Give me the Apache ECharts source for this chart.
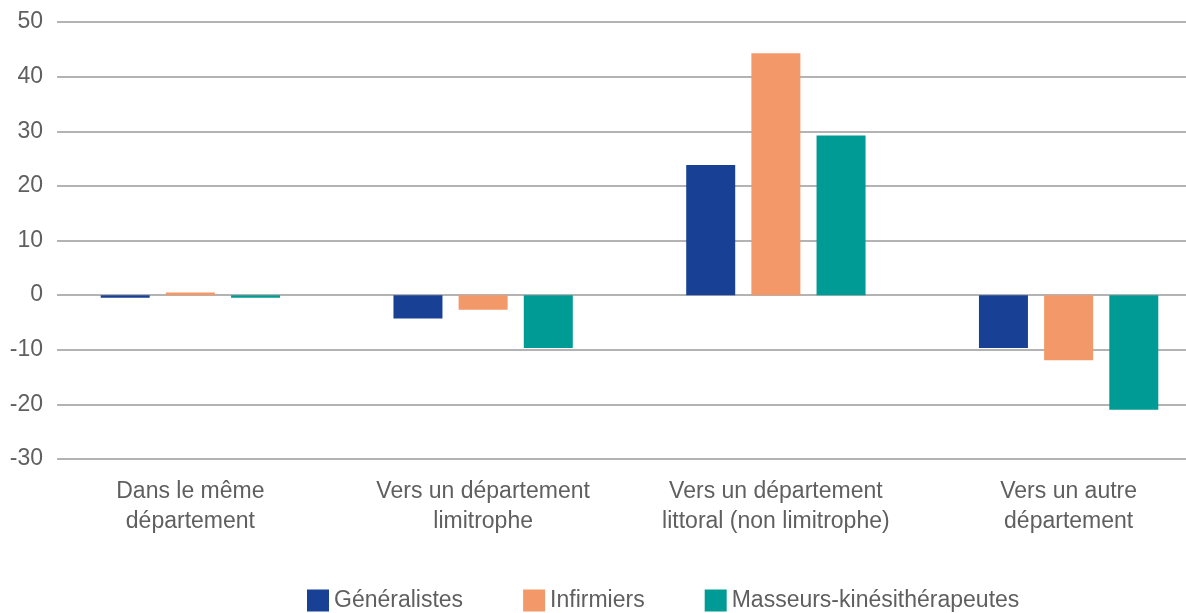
<!DOCTYPE html>
<html>
<head>
<meta charset="utf-8">
<script src="https://cdn.jsdelivr.net/npm/echarts@6/dist/echarts.min.js"></script>
<style>
  html, body { margin: 0; padding: 0; background: #fff; }
  #chart { width: 1186px; height: 613px; }
</style>
</head>
<body>
<div id="chart"></div>
<script>
  // catégories et valeurs
  let categories = [
    'Dans le même\ndépartement',
    'Vers un département\nlimitrophe',
    'Vers un département\nlittoral (non limitrophe)',
    'Vers un autre\ndépartement'
  ]
  let seriesNames = ['Généralistes', 'Infirmiers', 'Masseurs-kinésithérapeutes']
  let generalistes = [-0.5, -4.3, 23.8, -9.7]
  let infirmiers = [0.5, -2.7, 44.3, -11.9]
  let masseurs = [-0.5, -9.7, 29.2, -21.0]
  let colors = ['#184196', '#f39869', '#009b94']

  let font = '"Liberation Sans Narrow", "Liberation Sans", sans-serif'
  let textColor = '#5f5f5f'

  let myChart = echarts.init(document.getElementById('chart'))
  let makeSeries = function (name, data, i) {
    return {
      name: name,
      type: 'bar',
      xAxisIndex: 1,
      yAxisIndex: 1,
      barWidth: 49,
      barGap: '33%',
      itemStyle: { color: colors[i] },
      data: data
    }
  }
  myChart.setOption({
    animation: false,
    textStyle: { fontFamily: font },
    legend: {
      data: seriesNames,
      left: 302,
      bottom: -4,
      itemWidth: 22,
      itemHeight: 22,
      itemGap: 60,
      icon: 'rect',
      textStyle: { fontSize: 23, color: textColor, fontFamily: font }
    },
    grid: [
      // grille des lignes horizontales
      { left: 57, right: 0, top: 22, bottom: 154 },
      // grille des barres, plus large que la fenêtre comme dans l'original
      { left: 44, width: 1171, top: 22, bottom: 154, outerBoundsMode: 'none', containLabel: false }
    ],
    xAxis: [
      { type: 'category', gridIndex: 0, data: categories, show: false },
      {
        type: 'category',
        gridIndex: 1,
        data: categories,
        axisLine: { show: false, onZero: false },
        axisTick: { show: false },
        axisLabel: {
          interval: 0,
          margin: 18,
          fontSize: 23,
          lineHeight: 30,
          color: textColor,
          fontFamily: font
        }
      }
    ],
    yAxis: [
      {
        type: 'value',
        gridIndex: 0,
        min: -30,
        max: 50,
        interval: 10,
        axisLine: { show: false },
        axisTick: { show: false },
        axisLabel: { margin: 14, fontSize: 23, color: textColor, fontFamily: font },
        splitLine: { lineStyle: { color: '#9a9a9a', width: 1.5 } }
      },
      {
        type: 'value',
        gridIndex: 1,
        min: -30,
        max: 50,
        interval: 10,
        show: false,
        splitLine: { show: false }
      }
    ],
    series: [
      makeSeries(seriesNames[0], generalistes, 0),
      makeSeries(seriesNames[1], infirmiers, 1),
      makeSeries(seriesNames[2], masseurs, 2)
    ]
  })
</script>
</body>
</html>
